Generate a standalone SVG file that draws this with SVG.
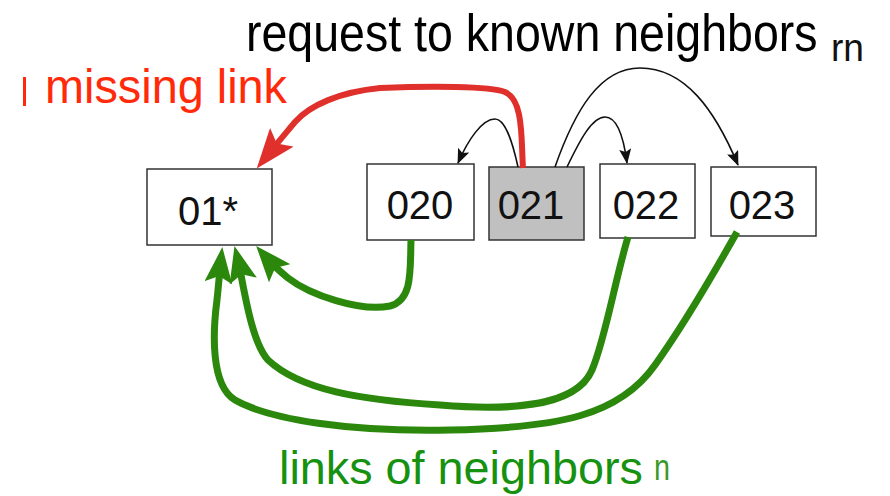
<svg xmlns="http://www.w3.org/2000/svg" width="890" height="496" viewBox="0 0 890 496">
  <style>
    .box { fill: #ffffff; stroke: #333333; stroke-width: 1.5; }
    .box.self { fill: #c0c0c0; }
    .lbl { font-family: "Liberation Sans", Arial, sans-serif; font-size: 40px; fill: #111111; text-anchor: middle; }
    .cap { font-family: "Liberation Sans", Arial, sans-serif; }
    .req { fill: none; stroke: #111111; stroke-width: 1.6; }
    .miss { fill: none; stroke: #e0302c; stroke-width: 6; }
    .nb { fill: none; stroke: #2b880c; stroke-width: 7; }
  </style>
  <defs>
    <marker id="ah-black" markerUnits="userSpaceOnUse" viewBox="0 0 15 12" markerWidth="15" markerHeight="12" refX="14" refY="6" orient="auto">
      <path d="M0,0 L15,6 L0,12 L3,6 z" fill="#111111"/>
    </marker>
    <marker id="ah-red" markerUnits="userSpaceOnUse" viewBox="0 0 40 30" markerWidth="40" markerHeight="30" refX="26" refY="15" orient="auto">
      <path d="M0,0 L40,15 L0,30 L8,15 z" fill="#e0302c"/>
    </marker>
    <marker id="ah-green" markerUnits="userSpaceOnUse" viewBox="0 0 36 28" markerWidth="36" markerHeight="28" refX="24" refY="14" orient="auto">
      <path d="M0,0 L36,14 L0,28 L7,14 z" fill="#2b880c"/>
    </marker>
  </defs>

  <rect width="890" height="496" fill="#ffffff"/>

  <!-- captions (tall, slightly condensed lettering via scale) -->
  <text class="cap" transform="translate(246,51) scale(0.99,1.1)" font-size="47" fill="#000000">request to known neighbors</text>
  <text class="cap" x="831" y="61" font-size="38" textLength="33" lengthAdjust="spacingAndGlyphs" fill="#111111">rn</text>
  <rect x="23" y="77" width="3" height="29" fill="#ff2a0a"/>
  <text class="cap" x="45" y="103" font-size="48" textLength="242" lengthAdjust="spacingAndGlyphs" fill="#ff2a0a">missing link</text>
  <text class="cap" x="279" y="484" font-size="47" textLength="364" lengthAdjust="spacingAndGlyphs" fill="#169210">links of neighbors</text>
  <text class="cap" x="654" y="480" font-size="36" textLength="16" lengthAdjust="spacingAndGlyphs" fill="#3a9a28">n</text>

  <!-- nodes -->
  <g id="node-01x">
    <rect class="box" x="147" y="169" width="125" height="76"/>
    <text class="lbl" x="208" y="225">01*</text>
  </g>
  <g id="node-020">
    <rect class="box" x="367" y="164" width="107" height="76"/>
    <text class="lbl" x="420" y="219">020</text>
  </g>
  <g id="node-021">
    <rect class="box self" x="489" y="167" width="95" height="73"/>
    <text class="lbl" x="531" y="219">021</text>
  </g>
  <g id="node-022">
    <rect class="box" x="600" y="164" width="95" height="74"/>
    <text class="lbl" x="646" y="219">022</text>
  </g>
  <g id="node-023">
    <rect class="box" x="711" y="167" width="105" height="69"/>
    <text class="lbl" x="762" y="219">023</text>
  </g>

  <!-- connectors -->
  <g id="connectors">
    <!-- requests from 021 to its known neighbors -->
    <path class="req" d="M518 167 C512 140 505 119 495 119 C482 119 468 140 458 163" marker-end="url(#ah-black)"/>
    <path class="req" d="M567 167 C580 140 592 117 605 117 C618 117 624 140 627 163" marker-end="url(#ah-black)"/>
    <path class="req" d="M555 167 C575 110 600 68 640 68 C685 68 715 110 738 165" marker-end="url(#ah-black)"/>
    <!-- missing link 021 -> 01* -->
    <path class="miss" d="M523 168 C521 140 524 100 505 92 C490 86 430 86 380 88 C340 92 310 105 295 122 C285 134 274 147 265.5 157.6" marker-end="url(#ah-red)"/>
    <!-- links of neighbors to 01* -->
    <path class="nb" d="M411 240 C410 270 413 300 390 306 C360 312 310 295 288 278 C278 270 270 262 264 255" marker-end="url(#ah-green)"/>
    <path class="nb" d="M628 237 C615 280 605 340 592 370 C575 410 500 410 440 405 C360 400 300 390 268 360 C250 340 243 280 237.4 257.7" marker-end="url(#ah-green)"/>
    <path class="nb" d="M737 232 C710 280 680 330 655 365 C620 415 560 428 450 430 C350 432 270 420 235 400 C210 385 213 330 217 300 C219 280 220 268 221 259" marker-end="url(#ah-green)"/>
  </g>
</svg>
